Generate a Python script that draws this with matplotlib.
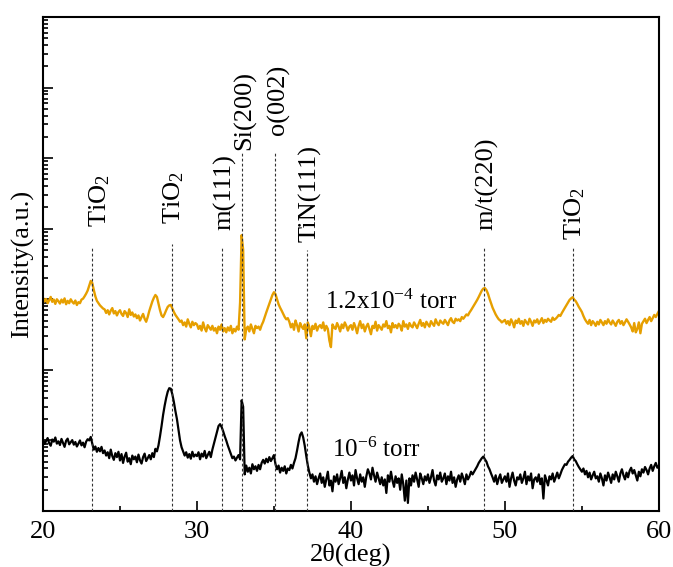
import numpy as np
import matplotlib
matplotlib.use("Agg")
import matplotlib.pyplot as plt
from matplotlib.ticker import LogLocator, NullFormatter, MultipleLocator
from matplotlib.transforms import blended_transform_factory

plt.rcParams["font.family"] = ["Liberation Serif", "DejaVu Serif"]
plt.rcParams["mathtext.fontset"] = "custom"
plt.rcParams["mathtext.rm"] = "Liberation Serif"
plt.rcParams["mathtext.it"] = "Liberation Serif:italic"

# scan angle, 0.1 deg steps from 20 to 60 deg
two_theta = np.linspace(20.0, 60.0, 401)

# film grown at 1.2x10^-4 torr (counts)
intensity_high_p = [
    1050, 930, 1010, 880, 970, 1080, 920, 990, 860, 1000,
    940, 870, 990, 900, 1030, 850, 950, 880, 1000, 920,
    870, 960, 830, 910, 880, 990, 1020, 1100, 1200, 1330,
    1550, 1820, 1700, 1350, 1100, 950, 880, 820, 780, 740,
    720, 640, 700, 610, 690, 750, 630, 680, 590, 660,
    700, 620, 580, 680, 640, 560, 720, 600, 650, 570,
    610, 540, 590, 500, 560, 620, 530, 480, 560, 680,
    800, 930, 1050, 1150, 1080, 870, 700, 590, 560, 620,
    700, 780, 820, 830, 740, 660, 600, 560, 520, 480,
    500, 430, 470, 410, 520, 450, 400, 480, 430, 460,
    440, 380, 420, 360, 470, 390, 350, 430, 400, 370,
    420, 360, 390, 330, 410, 370, 440, 350, 390, 340,
    400, 360, 420, 330, 380, 350, 410, 370, 900, 8100,
    5000, 270, 380, 410, 350, 440, 380, 330, 420, 390,
    410, 370, 430, 480, 560, 650, 750, 860, 1000, 1150,
    1260, 1180, 1000, 850, 760, 690, 620, 560, 520, 540,
    480, 400, 450, 370, 500, 430, 350, 460, 410, 380,
    440, 280, 470, 400, 300, 420, 380, 450, 360, 410,
    430, 390, 470, 360, 420, 380, 260, 210, 440, 400,
    380, 460, 410, 350, 440, 390, 470, 420, 360, 410,
    430, 370, 460, 400, 330, 420, 490, 390, 440, 350,
    410, 450, 380, 320, 420, 390, 480, 360, 430, 400,
    370, 440, 410, 490, 390, 420, 340, 460, 400, 430,
    390, 450, 420, 360, 490, 410, 440, 380, 460, 420,
    400, 470, 430, 390, 450, 510, 420, 460, 400, 480,
    440, 410, 490, 450, 420, 520, 460, 430, 500, 470,
    450, 510, 470, 430, 500, 540, 480, 460, 530, 500,
    520, 490, 560, 530, 570, 610, 590, 650, 700, 760,
    830, 900, 980, 1080, 1200, 1330, 1420, 1440, 1350, 1200,
    1020, 880, 760, 680, 610, 560, 520, 500, 470, 490,
    510, 450, 490, 430, 520, 470, 400, 500, 460, 530,
    450, 490, 420, 510, 470, 440, 530, 480, 420, 500,
    470, 520, 450, 490, 540, 460, 510, 480, 530, 500,
    480, 550, 510, 530, 560, 600, 580, 640, 700, 760,
    830, 900, 980, 1030, 1070, 990, 940, 860, 780, 720,
    660, 580, 520, 480, 450, 510, 430, 490, 460, 420,
    480, 440, 510, 470, 430, 490, 450, 520, 470, 440,
    500, 460, 420, 480, 510, 450, 490, 430, 470, 520,
    480, 440, 400, 350, 460, 340, 380, 470, 330, 450,
    490, 530, 460, 510, 560, 490, 540, 600, 560, 620,
    680,
]

# film grown at 10^-6 torr (counts)
intensity_low_p = [
    10.2, 8.9, 9.8, 10.8, 9.1, 8.4, 10.3, 9.6, 11.0, 9.0,
    9.7, 8.6, 10.5, 9.2, 8.1, 9.9, 10.6, 8.8, 9.4, 10.1,
    8.7, 9.5, 8.2, 9.0, 10.0, 8.5, 9.3, 8.0, 9.6, 10.4,
    10.0, 11.2, 9.0, 7.4, 8.2, 6.9, 7.8, 7.0, 8.1, 6.6,
    7.2, 6.1, 6.8, 5.6, 7.4, 6.0, 5.3, 6.6, 5.8, 6.9,
    5.2, 6.4, 4.8, 5.9, 6.7, 5.0, 5.6, 4.6, 6.1, 5.4,
    5.9, 4.9, 6.3, 5.2, 4.7, 5.8, 6.5, 5.1, 5.6, 6.2,
    5.4, 6.6, 5.8, 7.6, 7.0, 8.5, 11.5, 16, 23, 31,
    40, 49, 55, 54, 45, 35, 26, 20, 14, 10,
    8.0, 7.0, 6.1, 6.8, 5.7, 6.4, 5.5, 6.9, 5.9, 6.3,
    6.0, 6.8, 5.4, 6.5, 5.9, 7.1, 5.6, 6.2, 6.9, 5.8,
    7.4, 9.0, 11, 13.5, 16, 17, 15.5, 13.5, 11.5, 10,
    8.5, 7.4, 6.4, 5.6, 5.9, 5.2, 5.7, 6.2, 5.4, 37,
    30, 3.3, 4.4, 3.6, 4.1, 3.4, 4.6, 3.9, 4.3, 3.7,
    4.5, 3.9, 4.8, 5.3, 4.7, 5.5, 4.9, 5.8, 5.1, 5.6,
    6.2, 4.6, 3.9, 4.4, 3.5, 4.1, 3.7, 4.3, 3.4, 4.0,
    3.8, 4.5, 4.0, 4.8, 5.6, 7.2, 9.5, 12, 13, 11,
    8.4, 6.0, 4.4, 3.5, 2.9, 3.3, 2.6, 3.1, 2.4, 2.9,
    3.4, 2.5, 3.0, 2.2, 2.8, 3.6, 2.3, 2.7, 1.9, 3.1,
    2.6, 3.3, 2.4, 2.9, 3.7, 2.5, 3.0, 2.1, 2.8, 3.5,
    2.7, 3.2, 2.3, 3.8, 2.9, 2.4, 3.3, 2.6, 3.0, 2.2,
    3.1, 3.9, 3.4, 2.8, 4.1, 3.2, 2.6, 3.5, 2.9, 2.4,
    3.0, 2.3, 2.8, 1.8, 3.2, 2.6, 3.6, 2.7, 2.2, 3.1,
    2.5, 2.9, 2.0, 3.3, 2.4, 1.4, 2.7, 1.3, 2.9, 2.3,
    3.2, 2.6, 3.5, 2.8, 2.2, 3.4, 2.9, 2.4, 3.1, 2.7,
    3.3, 2.5, 3.0, 3.8, 2.7, 2.3, 3.2, 2.8, 3.5, 2.6,
    2.9, 3.4, 2.4, 3.1, 2.7, 3.6, 2.5, 3.0, 2.2, 2.8,
    3.2, 2.6, 3.4, 2.9, 2.4, 3.3, 2.8, 3.1, 3.6, 3.3,
    3.6, 3.9, 4.3, 4.8, 5.2, 5.6, 5.9, 5.4, 5.0, 4.3,
    3.9, 3.4, 3.0, 2.6, 3.2, 2.4, 2.9, 3.3, 2.5, 2.8,
    3.1, 2.6, 3.4, 2.2, 2.9, 3.5, 2.7, 2.3, 3.0, 2.8,
    3.3, 2.5, 2.9, 3.6, 2.4, 3.1, 2.7, 3.4, 2.1, 2.8,
    3.0, 2.6, 3.3, 2.4, 2.9, 1.5, 3.2, 2.7, 2.3, 3.1,
    2.8, 3.4, 2.6, 3.0, 3.5, 2.9, 3.3, 3.8, 4.2, 4.6,
    4.5, 5.0, 5.3, 5.7, 6.0, 5.4, 5.1, 4.6, 4.2, 3.9,
    3.6, 4.0, 3.3, 3.7, 3.0, 3.5, 2.8, 3.2, 3.6, 2.9,
    3.1, 2.6, 3.4, 2.9, 2.3, 3.2, 2.7, 3.5, 3.0, 2.5,
    3.3, 2.8, 3.6, 3.1, 2.6, 3.4, 3.9, 3.2, 2.8, 3.5,
    3.0, 3.7, 4.1, 3.4, 3.8, 3.2, 2.7, 3.6, 3.1, 3.9,
    3.5, 4.2, 3.8, 3.3, 4.0, 4.5, 3.7, 4.3, 4.8, 4.1,
    4.4,
]

# reflection markers: position (deg) and label
peak_positions = [23.15, 28.36, 31.6, 32.94, 35.06, 37.12, 48.66, 54.4]
peak_labels = [r"TiO$_2$", r"TiO$_2$", "m(111)", "Si(200)", "o(002)",
               "TiN(111)", "m/t(220)", r"TiO$_2$"]
# top of each marker line and base of each label (axes fraction), label centre (deg)
marker_tops = [0.534, 0.540, 0.532, 0.727, 0.727, 0.528, 0.534, 0.534]
label_bases = [0.575, 0.581, 0.569, 0.731, 0.761, 0.545, 0.569, 0.549]
label_x = [23.67, 28.5, 31.82, 33.12, 35.32, 37.34, 48.83, 54.55]

x_ticks = [20, 30, 40, 50, 60]

fig = plt.figure(figsize=(6.73, 5.67), dpi=100)
ax = fig.add_axes([0.0639, 0.0988, 0.9151, 0.8712])

ax.plot(two_theta, intensity_high_p, color="#E69F00", lw=1.7, zorder=2)
ax.plot(two_theta, intensity_low_p, color="black", lw=1.6, zorder=2)

ax.set_yscale("log")
ax.set_ylim(1, 1e7)
ax.set_xlim(20, 60)

trans = blended_transform_factory(ax.transData, ax.transAxes)
for pos, top, lab, base, lx in zip(peak_positions, marker_tops, peak_labels,
                                   label_bases, label_x):
    ax.plot([pos, pos], [0, top], transform=trans, color="#333333", lw=0.8,
            dashes=(2.5, 2), zorder=3)
    ax.text(lx, base, lab, transform=trans, rotation=90, ha="center",
            va="bottom", fontsize=19)

ax.text(0.458, 0.409, r"1.2x10$^{-4}$ torr", transform=ax.transAxes,
        ha="left", va="baseline", fontsize=18)
ax.text(0.469, 0.109, r"10$^{-6}$ torr", transform=ax.transAxes,
        ha="left", va="baseline", fontsize=18)

ax.set_xticks(x_ticks)
ax.set_xticklabels([str(t) for t in x_ticks])
ax.xaxis.set_minor_locator(MultipleLocator(5))
ax.yaxis.set_major_locator(LogLocator(base=10, numticks=20))
ax.yaxis.set_minor_locator(LogLocator(base=10, subs=np.arange(2, 10), numticks=20))
ax.yaxis.set_major_formatter(NullFormatter())
ax.yaxis.set_minor_formatter(NullFormatter())

ax.tick_params(which="both", direction="in", top=False, right=False,
               labelsize=19, width=1.2)
ax.tick_params(which="major", length=7, pad=7)
ax.tick_params(which="minor", length=3.5)
for s in ax.spines.values():
    s.set_linewidth(1.5)

ax.text(-0.034, 0.5, "Intensity(a.u.)", transform=ax.transAxes, rotation=90,
        ha="center", va="center", fontsize=19)
ax.text(0.5, -0.064, "2θ(deg)", transform=ax.transAxes, ha="center",
        va="top", fontsize=19)

fig.savefig("out.png", dpi=100)
